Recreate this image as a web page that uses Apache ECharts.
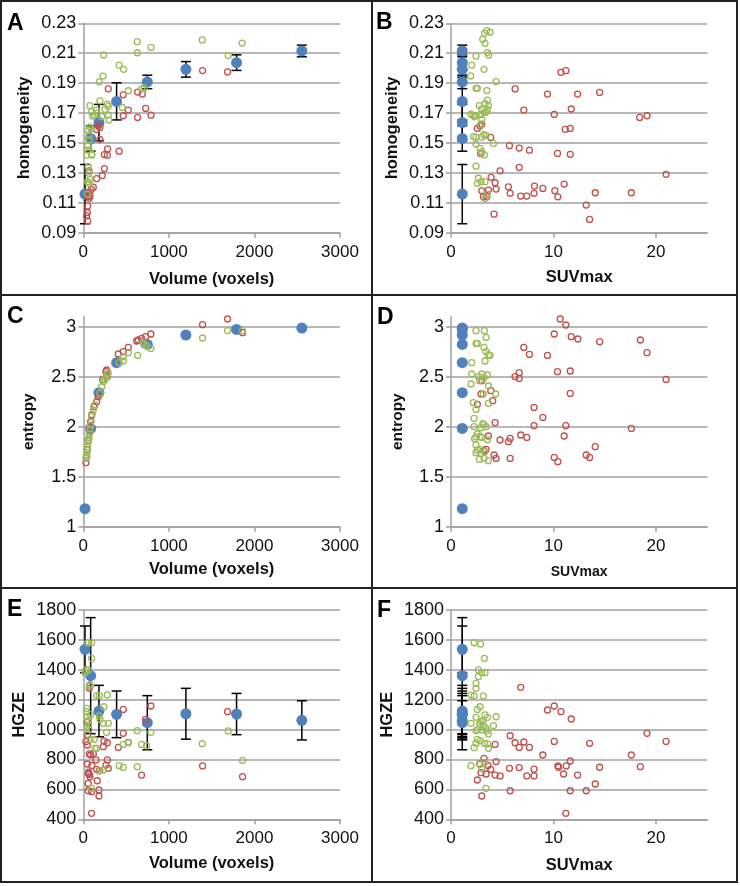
<!DOCTYPE html>
<html><head><meta charset="utf-8">
<script src="https://cdn.jsdelivr.net/npm/echarts@6/dist/echarts.min.js"></script>
<style>html,body{margin:0;padding:0;background:#fff}#c{width:740px;height:886px}</style>
</head><body><div id="c"></div>
<script>
// ---------- DATA ----------
const volumeTicks = [0, 1000, 2000, 3000];
const suvTicks = [0, 10, 20];
const homogeneityTicks = [0.09, 0.11, 0.13, 0.15, 0.17, 0.19, 0.21, 0.23];
const entropyTicks = [1, 1.5, 2, 2.5, 3];
const hgzeTicks = [400, 600, 800, 1000, 1200, 1400, 1600, 1800];

const blueVolume = [20, 86, 183, 389, 748, 1199, 1791, 2554];
const blueSUV = [1.1, 1.1, 1.1, 1.1, 1.1, 1.1, 1.1, 1.1];
const blueHomogeneity = [0.1158, 0.153, 0.1636, 0.1778, 0.1908, 0.1992, 0.2037, 0.2115];
const blueHomogeneitySD = [0.0198, 0.0085, 0.0122, 0.0124, 0.0045, 0.0052, 0.0052, 0.0039];
const blueEntropy = [1.18, 1.983, 2.34, 2.64, 2.823, 2.917, 2.973, 2.987];
const blueHGZE = [1537, 1361, 1124, 1102, 1046, 1106, 1104, 1062];
const blueHGZESD = [156, 388, 172, 156, 181, 170, 138, 131];

const greenA = [[631,0.2177],[631,0.2103],[791,0.2139],[238,0.2088],[1390,0.2189],[1694,0.2084],[1857,0.2168],[418,0.2021],[471,0.1992],[230,0.1947],[187,0.1909],[526,0.1849],[682,0.1862],[713,0.1868],[194,0.1782],[78,0.1749],[280,0.176],[292,0.1746],[253,0.1724],[456,0.1737],[98,0.1709],[129,0.1687],[156,0.17],[214,0.1676],[292,0.1687],[300,0.1653],[152,0.1719],[110,0.168],[78,0.1608],[58,0.1586],[90,0.1595],[66,0.1553],[70,0.152],[51,0.148],[51,0.1452],[98,0.1419],[39,0.1419],[58,0.1341],[66,0.1297],[51,0.1241],[78,0.1256],[47,0.1158],[66,0.123],[100,0.1425]];
const redA = [[292,0.1862],[467,0.1822],[635,0.184],[690,0.1827],[526,0.172],[729,0.1731],[467,0.1682],[635,0.1671],[791,0.1686],[194,0.1604],[156,0.159],[175,0.1615],[194,0.1523],[284,0.146],[246,0.1422],[280,0.1418],[418,0.1445],[246,0.1329],[222,0.1282],[156,0.1262],[117,0.1204],[93,0.1189],[59,0.1167],[39,0.1156],[78,0.1145],[51,0.1078],[39,0.1012],[51,0.0979],[66,0.1314],[1394,0.1984],[1686,0.1975],[70,0.113],[55,0.114],[47,0.1035]];

const greenB = [[3.26,0.2233],[3.49,0.2251],[3.81,0.224],[3.09,0.2193],[3.32,0.2166],[2.44,0.2081],[3.55,0.2104],[3.68,0.2088],[2.02,0.2021],[3.22,0.1992],[1.92,0.1948],[4.4,0.191],[2.44,0.1865],[2.57,0.1865],[3.49,0.185],[3.55,0.1787],[2.77,0.175],[3.32,0.1762],[3.65,0.175],[3.0,0.1727],[3.55,0.1723],[3.4,0.1705],[1.95,0.1692],[2.18,0.1685],[2.44,0.1685],[2.3,0.1675],[2.9,0.1692],[3.22,0.1703],[3.0,0.1655],[2.9,0.162],[2.2,0.1543],[2.44,0.1539],[2.99,0.1539],[3.42,0.155],[3.2,0.1555],[2.44,0.1493],[2.83,0.1464],[3.0,0.1442],[3.26,0.142],[4.14,0.1497],[2.44,0.1345],[2.67,0.1264],[2.57,0.123],[2.93,0.1241],[3.32,0.1241],[3.55,0.1158],[3.3,0.1128]];
const redB = [[2.57,0.1597],[2.83,0.1613],[3.0,0.1625],[3.88,0.1537],[2.9,0.143],[3.91,0.127],[4.3,0.1234],[4.4,0.1192],[4.79,0.1314],[3.0,0.118],[3.16,0.114],[3.49,0.114],[3.65,0.1185],[4.2,0.1024],[5.7,0.1482],[5.77,0.1163],[5.6,0.1207],[6.25,0.1861],[6.65,0.1466],[6.65,0.1337],[6.8,0.1145],[7.1,0.172],[7.39,0.1145],[7.65,0.1452],[8.1,0.1163],[8.14,0.1212],[8.96,0.1196],[9.41,0.1827],[10.07,0.1691],[10.13,0.1181],[10.39,0.143],[10.42,0.114],[10.72,0.1972],[11.2,0.1983],[11.04,0.1225],[11.14,0.1591],[11.63,0.1597],[11.63,0.1424],[11.73,0.1727],[12.35,0.1827],[13.19,0.1085],[13.52,0.0989],[14.07,0.1167],[14.5,0.1838],[17.59,0.1167],[18.4,0.1671],[19.12,0.1682],[20.98,0.129]];

const greenC = [[1686,2.96],[1861,2.96],[1394,2.887],[790,2.783],[709,2.82],[740,2.81],[635,2.713],[526,2.74],[467,2.657],[420,2.64],[467,2.7],[292,2.54],[265,2.493],[234,2.45],[214,2.4],[195,2.333],[136,2.217],[117,2.167],[97,2.1],[86,2.017],[78,1.98],[70,1.927],[66,1.89],[58,1.85],[51,1.8],[47,1.767],[39,1.717],[31,1.683],[35,1.7],[43,1.74],[62,1.87],[280,2.52],[250,2.47],[700,2.84]];
const redC = [[1394,3.02],[1686,3.077],[1861,2.94],[790,2.927],[728,2.9],[681,2.883],[642,2.867],[623,2.857],[526,2.793],[467,2.75],[409,2.727],[272,2.567],[265,2.55],[226,2.473],[187,2.333],[156,2.25],[125,2.2],[86,2.05],[58,1.867],[47,1.773],[31,1.64],[280,2.5],[175,2.3],[70,1.95],[100,2.12],[40,1.7]];

const greenD = [[2.44,2.96],[3.26,2.96],[3.42,2.893],[2.44,2.833],[2.57,2.833],[3.22,2.793],[3.42,2.75],[3.65,2.72],[3.81,2.713],[2.02,2.64],[3.32,2.657],[2.02,2.527],[3.0,2.527],[3.55,2.517],[3.22,2.493],[2.77,2.46],[1.95,2.427],[3.65,2.407],[3.16,2.327],[4.36,2.327],[3.65,2.233],[2.18,2.24],[2.44,2.173],[2.25,2.083],[2.25,2.0],[3.22,2.02],[3.42,2.0],[2.57,1.927],[2.44,1.9],[2.83,1.9],[3.0,1.893],[2.3,1.88],[2.44,1.817],[2.57,1.767],[2.83,1.773],[2.93,1.733],[2.44,1.74],[2.77,1.673],[3.22,1.683],[3.65,1.66],[3.3,1.75],[3.55,1.87],[2.9,1.99],[3.1,2.03],[2.7,2.5]];
const redD = [[10.65,3.077],[11.2,3.017],[10.07,2.927],[11.73,2.9],[12.38,2.877],[14.5,2.85],[18.47,2.867],[19.12,2.74],[7.1,2.793],[7.65,2.723],[9.41,2.713],[6.65,2.54],[10.39,2.55],[11.63,2.557],[6.25,2.5],[6.65,2.483],[20.98,2.473],[11.63,2.333],[3.0,2.46],[2.93,2.327],[3.88,2.36],[4.07,2.26],[2.57,2.223],[8.1,2.193],[8.96,2.093],[4.3,2.04],[8.1,2.01],[11.2,2.01],[17.59,1.983],[3.65,1.907],[6.8,1.917],[7.39,1.893],[11.04,1.907],[4.79,1.867],[5.6,1.85],[5.77,1.883],[14.07,1.8],[3.42,1.773],[3.2,1.76],[4.2,1.717],[4.4,1.683],[5.77,1.683],[10.07,1.693],[10.42,1.65],[13.19,1.717],[13.52,1.693]];

const greenE = [[51,1581],[97,1581],[97,1477],[31,1399],[58,1399],[19,1381],[70,1292],[78,1300],[156,1227],[187,1227],[280,1232],[241,1153],[187,1091],[195,1069],[234,1042],[292,1042],[39,1142],[47,1086],[55,1060],[62,1030],[272,982],[631,993],[790,982],[1694,991],[78,935],[128,935],[136,875],[156,875],[467,901],[526,912],[681,901],[740,892],[1390,906],[1861,794],[420,759],[467,747],[631,752],[195,725],[234,730],[97,607],[43,1020],[66,1000],[86,1100],[35,1120]];
const redE = [[728,1069],[790,1158],[467,1135],[1686,1120],[467,975],[526,915],[409,881],[280,912],[241,923],[234,886],[51,964],[31,919],[47,897],[70,837],[117,837],[156,734],[148,797],[280,797],[265,763],[292,741],[187,725],[47,770],[58,707],[78,685],[70,700],[62,715],[97,585],[58,591],[58,640],[163,658],[183,596],[183,556],[97,440],[681,696],[1394,757],[1861,685],[78,1292],[70,1276],[86,830],[100,760],[43,1050]];

const greenF = [[2.25,1581],[2.9,1572],[3.26,1477],[2.67,1399],[3.0,1381],[3.32,1381],[2.67,1354],[2.44,1309],[2.44,1276],[1.95,1231],[2.25,1225],[3.16,1225],[2.83,1153],[2.57,1135],[2.44,1082],[3.32,1098],[3.55,1082],[4.4,1086],[1.95,1042],[2.93,1053],[3.16,1026],[4.14,1026],[2.44,993],[3.0,997],[3.49,991],[3.65,970],[2.57,935],[3.26,908],[3.55,904],[2.44,908],[2.25,879],[2.83,926],[3.65,875],[1.95,759],[2.83,768],[3.26,779],[3.42,607],[3.1,1060],[2.8,1040],[3.4,1010],[3.0,740],[2.6,1000]];
const redF = [[6.8,1283],[10.07,1158],[9.41,1131],[10.72,1120],[11.73,1071],[5.77,959],[6.25,912],[6.65,881],[7.1,917],[7.65,881],[10.07,921],[8.96,830],[13.52,908],[17.59,830],[19.12,975],[20.98,921],[18.47,752],[14.5,748],[10.42,757],[10.5,748],[11.24,757],[10.98,703],[11.63,790],[12.35,696],[11.63,591],[13.19,591],[14.07,636],[5.7,741],[6.65,746],[7.39,690],[8.1,735],[8.1,690],[5.77,591],[11.2,440],[4.3,901],[4.4,786],[2.57,663],[3.0,556],[3.22,808],[3.88,734],[4.3,696],[4.79,690],[2.93,712],[3.42,703],[3.6,760],[2.8,770]];

// ---------- STYLE / LAYOUT ----------
const FONT = '"Liberation Sans", Arial, sans-serif';
const GRID_C = '#a0a0a0';
const BLUE = '#4f81bd', GREEN = '#9bbb59', RED = '#c0504d';

const panels = [
  {letter:'A', grid:{left:83.3, top:23.3, width:256.7, height:209.4}, xTicks:volumeTicks, xMax:3000, xName:'Volume (voxels)', xGap:38, xNameSize:16.5,
   yTicks:homogeneityTicks, yMax:0.23, yName:'homogeneity', yGap:50, yNameSize:16.5, yDec:2,
   blueX:blueVolume, blueY:blueHomogeneity, blueSD:blueHomogeneitySD, green:greenA, red:redA, lx:7, ly:23.5},
  {letter:'B', grid:{left:451, top:23.3, width:256.3, height:209.4}, xTicks:suvTicks, xMax:25, xName:'SUVmax', xGap:36, xNameSize:16.5,
   yTicks:homogeneityTicks, yMax:0.23, yName:'homogeneity', yGap:50, yNameSize:16.5, yDec:2,
   blueX:blueSUV, blueY:blueHomogeneity, blueSD:blueHomogeneitySD, green:greenB, red:redB, lx:376, ly:23},
  {letter:'C', grid:{left:83.3, top:316.7, width:256.7, height:210}, xTicks:volumeTicks, xMax:3000, xName:'Volume (voxels)', xGap:34, xNameSize:16.5,
   yTicks:entropyTicks, yMax:3.1, yName:'entropy', yGap:47, yNameSize:15.5, yDec:null,
   blueX:blueVolume, blueY:blueEntropy, blueSD:null, green:greenC, red:redC, lx:7, ly:316.5},
  {letter:'D', grid:{left:451, top:316.7, width:256.3, height:210}, xTicks:suvTicks, xMax:25, xName:'SUVmax', xGap:38, xNameSize:14,
   yTicks:entropyTicks, yMax:3.1, yName:'entropy', yGap:45, yNameSize:15.5, yDec:null,
   blueX:blueSUV, blueY:blueEntropy, blueSD:null, green:greenD, red:redD, lx:377, ly:317.5},
  {letter:'E', grid:{left:83.3, top:610, width:256.7, height:209.3}, xTicks:volumeTicks, xMax:3000, xName:'Volume (voxels)', xGap:36, xNameSize:16.5,
   yTicks:hgzeTicks, yMax:1800, yName:'HGZE', yGap:55, yNameSize:16.5, yDec:null,
   blueX:blueVolume, blueY:blueHGZE, blueSD:blueHGZESD, green:greenE, red:redE, lx:7, ly:610},
  {letter:'F', grid:{left:451, top:610, width:256.3, height:209.3}, xTicks:suvTicks, xMax:25, xName:'SUVmax', xGap:37.5, xNameSize:16.5,
   yTicks:hgzeTicks, yMax:1800, yName:'HGZE', yGap:55.5, yNameSize:16.5, yDec:null,
   blueX:blueSUV, blueY:blueHGZE, blueSD:blueHGZESD, green:greenF, red:redF, lx:377, ly:610.5}
];

function errRender(params, api) {
  const x = api.value(0), y = api.value(1), e = api.value(2);
  const top = api.coord([x, y + e]), bot = api.coord([x, y - e]);
  const hw = 5;
  const style = {stroke: '#000', lineWidth: 1.5};
  return {type: 'group', children: [
    {type: 'line', shape: {x1: top[0], y1: top[1], x2: bot[0], y2: bot[1]}, style},
    {type: 'line', shape: {x1: top[0] - hw, y1: top[1], x2: top[0] + hw, y2: top[1]}, style},
    {type: 'line', shape: {x1: bot[0] - hw, y1: bot[1], x2: bot[0] + hw, y2: bot[1]}, style}
  ]};
}

const plain = v => String(+v.toFixed(6));

const grids = [], xAxes = [], yAxes = [], series = [], graphics = [];
panels.forEach((p, i) => {
  grids.push(Object.assign({containLabel: false, outerBoundsMode: 'none'}, p.grid));
  const xInt = p.xTicks[1] - p.xTicks[0];
  const yInt = p.yTicks[1] - p.yTicks[0];
  xAxes.push({
    type: 'value', gridIndex: i, min: p.xTicks[0], max: p.xMax, interval: xInt,
    name: p.xName, nameLocation: 'middle', nameGap: p.xGap,
    nameTextStyle: {fontFamily: FONT, fontWeight: 'bold', fontSize: p.xNameSize, color: '#111'},
    axisLine: {show: true, onZero: false, lineStyle: {color: GRID_C, width: 1.5}},
    axisTick: {show: true, inside: false, length: 5, lineStyle: {color: GRID_C, width: 1.5}},
    axisLabel: {fontFamily: FONT, fontSize: 17, color: '#111', margin: 11, formatter: plain,
      showMaxLabel: p.xMax === p.xTicks[p.xTicks.length - 1]},
    splitLine: {show: false}
  });
  yAxes.push({
    type: 'value', gridIndex: i, min: p.yTicks[0], max: p.yMax, interval: yInt,
    name: p.yName, nameLocation: 'middle', nameGap: p.yGap, nameRotate: 90,
    nameTextStyle: {fontFamily: FONT, fontWeight: 'bold', fontSize: p.yNameSize, color: '#111'},
    axisLine: {show: true, onZero: false, lineStyle: {color: GRID_C, width: 1.5}},
    axisTick: {show: true, inside: false, length: 5, lineStyle: {color: GRID_C, width: 1.5}},
    axisLabel: {fontFamily: FONT, fontSize: 18, color: '#111', margin: 7,
      showMaxLabel: p.yMax === p.yTicks[p.yTicks.length - 1],
      formatter: p.yDec != null ? (v => v.toFixed(p.yDec)) : plain},
    splitLine: {show: true, showMinLine: true, showMaxLine: p.yMax === p.yTicks[p.yTicks.length - 1],
      lineStyle: {color: GRID_C, width: 1.5}}
  });
  if (p.blueSD) {
    series.push({
      type: 'custom', xAxisIndex: i, yAxisIndex: i, renderItem: errRender, silent: true,
      encode: {x: 0, y: 1},
      data: p.blueX.map((x, k) => [x, p.blueY[k], p.blueSD[k]]), z: 2
    });
  }
  series.push({
    type: 'scatter', xAxisIndex: i, yAxisIndex: i, symbol: 'circle', symbolSize: 11, silent: true,
    itemStyle: {color: BLUE, opacity: 1}, data: p.blueX.map((x, k) => [x, p.blueY[k]]), z: 3
  });
  series.push({
    type: 'scatter', xAxisIndex: i, yAxisIndex: i, symbol: 'circle', symbolSize: 6, silent: true,
    itemStyle: {color: 'rgba(0,0,0,0)', borderColor: RED, borderWidth: 1.3, opacity: 1}, data: p.red, z: 4
  });
  series.push({
    type: 'scatter', xAxisIndex: i, yAxisIndex: i, symbol: 'circle', symbolSize: 6, silent: true,
    itemStyle: {color: 'rgba(0,0,0,0)', borderColor: GREEN, borderWidth: 1.3, opacity: 1}, data: p.green, z: 5
  });
  graphics.push({type: 'text', x: p.lx, y: p.ly, z: 10,
    style: {text: p.letter, font: 'bold 23px ' + FONT, fill: '#000', textAlign: 'left', textVerticalAlign: 'middle', verticalAlign: 'middle'}});
});

// panel frames
const frameStyle = {stroke: '#222', lineWidth: 2, fill: null};
graphics.push({type: 'rect', shape: {x: 1, y: 1, width: 736, height: 881}, style: {stroke: '#222', lineWidth: 2, fill: 'none'}, z: 10});
graphics.push({type: 'line', shape: {x1: 372, y1: 1, x2: 372, y2: 882}, style: frameStyle, z: 10});
graphics.push({type: 'line', shape: {x1: 1, y1: 295, x2: 737, y2: 295}, style: frameStyle, z: 10});
graphics.push({type: 'line', shape: {x1: 1, y1: 588, x2: 737, y2: 588}, style: frameStyle, z: 10});

const chart = echarts.init(document.getElementById('c'), null, {renderer: 'canvas'});
chart.setOption({
  animation: false,
  backgroundColor: '#fff',
  textStyle: {fontFamily: FONT},
  grid: grids, xAxis: xAxes, yAxis: yAxes, series: series,
  graphic: graphics
});
</script></body></html>
